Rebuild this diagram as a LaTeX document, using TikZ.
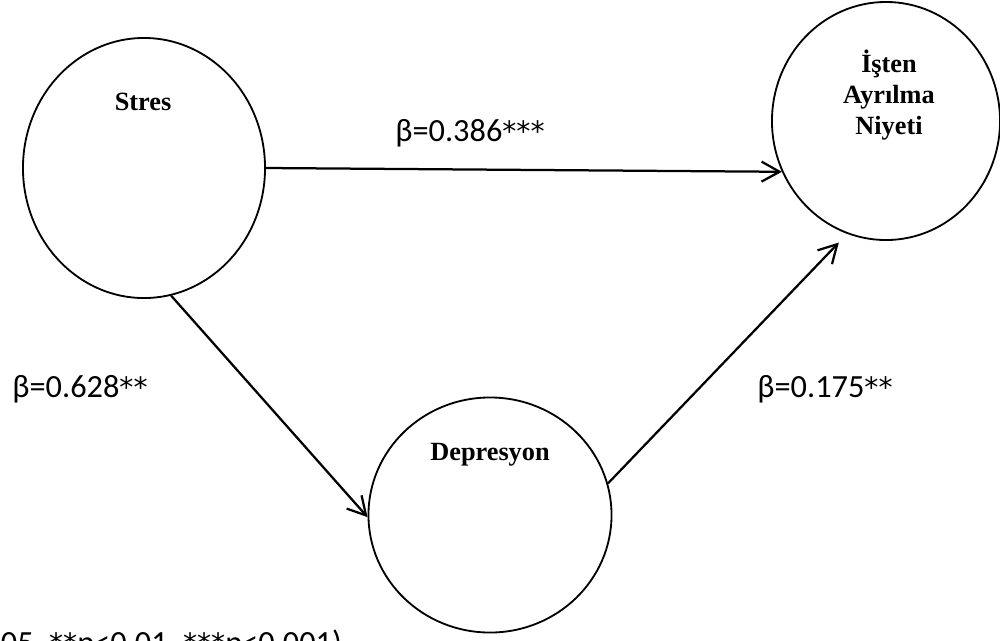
\documentclass[tikz,border=0pt]{standalone}
\usepackage{fontspec}
\setmainfont{Liberation Serif}
\newfontfamily\coeffont{Carlito}
\newfontfamily\starfont{DejaVu Sans}
\newcommand\sigstars[1]{{\starfont\fontsize{20}{24}\selectfont #1}}
\usetikzlibrary{arrows.meta,calc,positioning,shapes.geometric}

\begin{document}
\begin{tikzpicture}[x=0.025cm,y=-0.025cm,
  latent/.style={draw,ellipse,line width=1.3pt,inner sep=0pt},
  lbl/.style={font=\fontsize{18.7}{22.3}\selectfont\bfseries,align=center},
  coef/.style={font=\coeffont\fontsize{23}{27}\selectfont,anchor=base},
  effect/.style={line width=1.6pt,-{Straight Barb[length=4.5mm,width=5mm]}}]
  \useasboundingbox (0,0) rectangle (1000,640);
  % latent variables
  \node[latent,minimum width=6.05cm,minimum height=6.5cm] (stres) at (144,168) {};
  \node[latent,minimum width=5.7cm,minimum height=5.95cm] (isten) at (886,121) {};
  \node[latent,minimum width=6.075cm,minimum height=5.875cm] (depr) at (490,515) {};
  \node[lbl,anchor=base] (stresname) at (143,110) {Stres};
  \node[lbl] (istenname) at (889,95) {İşten\\Ayrılma\\Niyeti};
  \node[lbl,anchor=base] (deprname) at (490,460) {Depresyon};
  % paths
  \draw[effect] (stres.east) -- (isten.206);
  \draw[effect] (stres.282) -- (depr.181);
  \draw[effect,shorten >=3mm] (depr.15) -- (isten.251);
  \node[coef] (b1) at (470,141) {β=0.386\sigstars{***}};
  \node[coef] (b2) at (80,397) {β=0.628\sigstars{**}};
  \node[coef] (b3) at (825,397) {β=0.175\sigstars{**}};
  \node[coef,anchor=base west] (note) at (-4,653) {05, \sigstars{**}p<0.01, \sigstars{***}p<0.001)};
\end{tikzpicture}
\end{document}
